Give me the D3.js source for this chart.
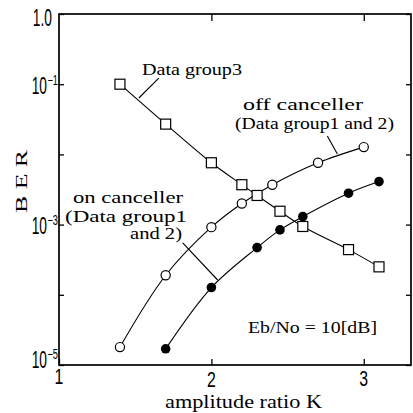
<!DOCTYPE html>
<html>
<head>
<meta charset="utf-8">
<script src="https://cdn.jsdelivr.net/npm/d3@7"></script>
<style>
    body { margin: 0; background: #fff; }
    svg { display: block; }
</style>
</head>
<body>
<svg id="chart" width="413" height="413"></svg>
<script>
// values: BER against amplitude ratio K
const kGroup3 = [1.4, 1.7, 2.0, 2.2, 2.3, 2.45, 2.6, 2.9, 3.1];
const berGroup3 = [1.0e-1, 2.7e-2, 7.6e-3, 3.7e-3, 2.6e-3, 1.55e-3, 9.4e-4, 4.4e-4, 2.5e-4];

const kOff = [1.4, 1.7, 2.0, 2.2, 2.4, 2.7, 3.0];
const berOff = [1.8e-5, 1.9e-4, 9.2e-4, 2.0e-3, 3.7e-3, 7.6e-3, 1.27e-2];

const kOn = [1.7, 2.0, 2.3, 2.45, 2.6, 2.9, 3.1];
const berOn = [1.7e-5, 1.27e-4, 4.7e-4, 8.4e-4, 1.3e-3, 2.8e-3, 4.1e-3];

const xTicks = [1, 2, 3];
const yTicks = [1, 1e-1, 1e-2, 1e-3, 1e-4, 1e-5];
const yTickLabels = [["1.0", ""], ["10", "\u22121"], ["10", "\u22123"], ["10", "\u22125"]];
const yLabelled = [1, 1e-1, 1e-3, 1e-5];

const svg = d3.select("#chart");
const margin = {top: 14, right: 2, bottom: 48, left: 59};
const width = 413 - margin.left - margin.right;
const height = 413 - margin.top - margin.bottom;

const x = d3.scaleLinear().domain([1, 3.31]).range([0, width]);
const y = d3.scaleLog().domain([1e-5, 1]).range([height, 0]);

const g = svg.append("g")
    .attr("transform", "translate(" + margin.left + "," + margin.top + ")");

// ticks point inwards on all four sides
const axes = [
    [d3.axisBottom(x).tickValues(xTicks).tickSizeInner(-6), "translate(0," + height + ")"],
    [d3.axisTop(x).tickValues(xTicks.slice(1)).tickSizeInner(-7), "translate(0,0)"],
    [d3.axisLeft(y).tickValues(yTicks).tickSizeInner(-5), "translate(0,0)"],
    [d3.axisRight(y).tickValues(yTicks).tickSizeInner(-5), "translate(" + width + ",0)"]
];
axes.forEach(([axis, tr]) => {
    const a = g.append("g")
        .attr("transform", tr)
        .call(axis.tickSizeOuter(0).tickFormat(() => ""));
    a.select(".domain").remove();
    a.selectAll("line").attr("stroke", "#000").attr("stroke-width", 1.3);
});

g.append("rect")
    .attr("width", width)
    .attr("height", height)
    .attr("fill", "none")
    .attr("stroke", "#000")
    .attr("stroke-width", 1.7);

// x tick labels, condensed digits
const xBase = {1: 19, 2: 22, 3: 21};
g.selectAll(".xlab")
    .data(xTicks)
    .enter().append("text")
    .attr("class", "xlab")
    .attr("transform", d => "translate(" + x(d) + "," + (height + xBase[d]) + ") scale(0.72,1)")
    .attr("text-anchor", "middle")
    .style("font-family", "Liberation Sans, Arial, sans-serif")
    .style("font-size", "22px")
    .text(d => d);

// y tick labels: mantissa plus superscript exponent
const yBase = [12, 10, 9, 3];
yLabelled.forEach((v, i) => {
    const yy = y(v) + yBase[i];
    g.append("text")
        .attr("transform", "translate(" + (i === 0 ? -7 : -12) + "," + yy + ") scale(0.6,1)")
        .attr("text-anchor", "end")
        .style("font-family", "Liberation Sans, Arial, sans-serif")
        .style("font-size", "23px")
        .text(yTickLabels[i][0]);
    if (yTickLabels[i][1]) {
        g.append("text")
            .attr("transform", "translate(-1," + (yy - 9) + ") scale(0.66,1)")
            .attr("text-anchor", "end")
            .style("font-family", "Liberation Sans, Arial, sans-serif")
            .style("font-size", "14px")
            .text(yTickLabels[i][1]);
    }
});

// curves
const line = d3.line()
    .x(d => x(d[0]))
    .y(d => y(d[1]))
    .curve(d3.curveCatmullRom.alpha(0.5));

const group3 = d3.zip(kGroup3, berGroup3);
const off = d3.zip(kOff, berOff);
const on = d3.zip(kOn, berOn);

[group3, off, on].forEach(s => {
    g.append("path")
        .datum(s)
        .attr("d", line)
        .attr("fill", "none")
        .attr("stroke", "#000")
        .attr("stroke-width", 1.1);
});

// leader lines from labels to curves (data coordinates)
const leaders = [
    [[1.655, 0.122], [1.524, 0.0636]],
    [[2.761, 0.0183], [2.827, 0.0101]],
    [[1.812, 5.47e-4], [2.041, 1.625e-4]]
];
g.selectAll(".leader")
    .data(leaders)
    .enter().append("path")
    .attr("class", "leader")
    .attr("d", d3.line().x(d => x(d[0])).y(d => y(d[1])))
    .attr("stroke", "#000")
    .attr("stroke-width", 1.1);

// markers
g.selectAll(".sq")
    .data(group3)
    .enter().append("rect")
    .attr("class", "sq")
    .attr("x", d => x(d[0]) - 5)
    .attr("y", d => y(d[1]) - 5)
    .attr("width", 10)
    .attr("height", 10)
    .attr("fill", "#fff")
    .attr("stroke", "#000")
    .attr("stroke-width", 1.2);

g.selectAll(".oc")
    .data(off)
    .enter().append("circle")
    .attr("class", "oc")
    .attr("cx", d => x(d[0]))
    .attr("cy", d => y(d[1]))
    .attr("r", 4.6)
    .attr("fill", "#fff")
    .attr("stroke", "#000")
    .attr("stroke-width", 1.2);

g.selectAll(".fc")
    .data(on)
    .enter().append("circle")
    .attr("class", "fc")
    .attr("cx", d => x(d[0]))
    .attr("cy", d => y(d[1]))
    .attr("r", 4.8)
    .attr("fill", "#000");

// annotations (svg pixel positions)
const notes = [
    ["Data group3", 142, 75, 100, 17],
    ["off canceller", 243, 110, 120, 17],
    ["(Data group1 and 2)", 235, 129, 159, 17],
    ["on canceller", 73, 203, 110, 17],
    ["(Data group1", 65, 222, 122, 17],
    ["and 2)", 130, 239, 52, 17],
    ["Eb/No = 10[dB]", 248, 333, 129, 17],
    ["amplitude ratio K", 165, 408, 157, 18]
];
notes.forEach(([t, px, py, len, fs]) => {
    svg.append("text")
        .attr("x", px)
        .attr("y", py)
        .attr("textLength", len)
        .attr("lengthAdjust", "spacingAndGlyphs")
        .style("font-family", "Liberation Serif, Times New Roman, serif")
        .style("font-size", fs + "px")
        .text(t);
});

svg.append("text")
    .attr("transform", "translate(27,213) rotate(-90)")
    .attr("textLength", 63)
    .attr("lengthAdjust", "spacingAndGlyphs")
    .style("font-family", "Liberation Serif, Times New Roman, serif")
    .style("font-size", "17px")
    .text("B E R");
</script>
</body>
</html>
